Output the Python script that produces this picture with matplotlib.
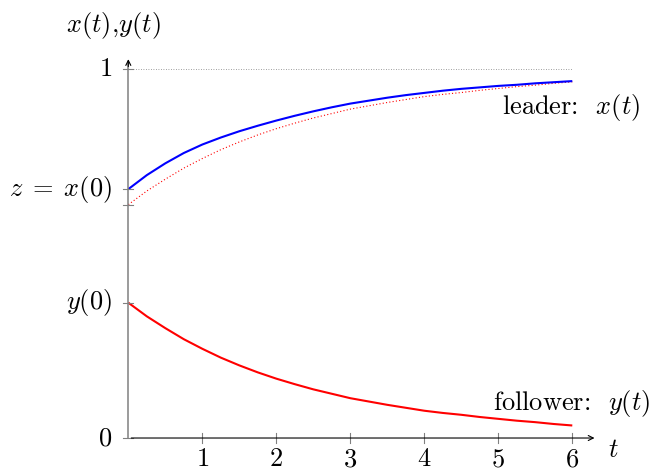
import matplotlib
matplotlib.use("Agg")
import matplotlib.pyplot as plt

plt.rcParams['mathtext.fontset'] = 'cm'

# values
t = [0, 0.25, 0.5, 0.75, 1, 1.25, 1.5, 1.75, 2, 2.25, 2.5, 2.75, 3,
     3.25, 3.5, 3.75, 4, 4.25, 4.5, 4.75, 5, 5.25, 5.5, 5.75, 6]
leader_x = [0.675, 0.713, 0.745, 0.773, 0.796, 0.815, 0.832, 0.847, 0.861,
            0.874, 0.886, 0.897, 0.907, 0.915, 0.923, 0.930, 0.936, 0.942,
            0.947, 0.951, 0.955, 0.958, 0.962, 0.965, 0.968]
follower_y = [0.367, 0.330, 0.298, 0.268, 0.242, 0.218, 0.197, 0.178, 0.161,
              0.146, 0.132, 0.120, 0.108, 0.099, 0.090, 0.082, 0.074, 0.068,
              0.063, 0.057, 0.052, 0.047, 0.043, 0.038, 0.034]
mirror_y = [0.633, 0.670, 0.702, 0.732, 0.758, 0.782, 0.803, 0.822, 0.839,
            0.854, 0.868, 0.880, 0.892, 0.901, 0.910, 0.918, 0.926, 0.932,
            0.937, 0.943, 0.948, 0.953, 0.957, 0.962, 0.966]

x_ticks = [1, 2, 3, 4, 5, 6]
y_ticks = [0, 0.367, 0.633, 0.675, 1]
y_ticklabels = {0: r'$0$', 0.367: r'$y(0)$', 0.675: r'$z\;=\;x(0)$', 1: r'$1$'}

fs = 19
fig = plt.figure(figsize=(6.51, 4.72), dpi=100)
ax = fig.add_axes([0.1971, 0.0720, 0.7161, 0.8085])
ax.set_xlim(0, 6.3)
ax.set_ylim(0, 1.035)
ax.axis('off')

# reference line at 1
ax.plot([0, 6], [1, 1], color='gray', lw=0.6, ls=(0, (1, 2)))

# curves
ax.plot(t, mirror_y, color='red', lw=0.8, ls=(0, (1, 2)))
ax.plot(t, leader_x, color='blue', lw=1.5, solid_capstyle='butt')
ax.plot(t, follower_y, color='red', lw=1.5, solid_capstyle='butt')

# axes with arrows
ax.plot([0, 0], [0, 1.02], color='gray', lw=1.1, clip_on=False)
ax.annotate('', xy=(0, 1.035), xytext=(0, 1.0),
            arrowprops=dict(arrowstyle='->', color='black', lw=0.8, mutation_scale=9),
            annotation_clip=False)
ax.annotate('', xy=(6.3, 0), xytext=(0.04, 0),
            arrowprops=dict(arrowstyle='->', color='black', lw=0.8, mutation_scale=9,
                            shrinkA=0, shrinkB=0),
            annotation_clip=False)

# ticks
for xt in x_ticks:
    ax.plot([xt, xt], [-0.013, 0.013], color='gray', lw=0.8, clip_on=False)
    ax.text(xt, -0.022, r'$%d$' % xt, fontsize=fs, ha='center', va='top')
for yt in y_ticks:
    ax.plot([-0.07, 0.07], [yt, yt], color='gray', lw=0.8, clip_on=False)
    if yt in y_ticklabels:
        ax.text(-0.22, yt, y_ticklabels[yt], fontsize=fs, ha='right', va='center')

# axis labels
ax.text(-0.2, 1.12, r'$x(t)$,$y(t)$', fontsize=fs, ha='center', va='center',
        family='cmr10')
ax.text(6.48, -0.0515, r'$t$', fontsize=fs, ha='left', va='baseline')

# curve labels
ax.text(6.915, 0.879, r'leader:  $x(t)$', fontsize=fs, ha='right', va='baseline',
        family='cmr10')
ax.text(7.05, 0.076, r'follower:  $y(t)$', fontsize=fs, ha='right', va='baseline',
        family='cmr10')

fig.savefig('out.png', dpi=100)
